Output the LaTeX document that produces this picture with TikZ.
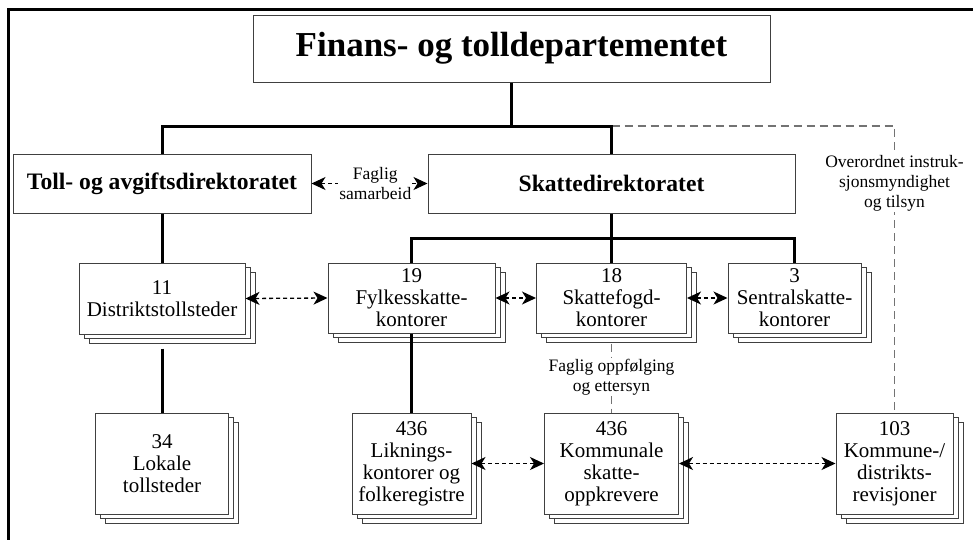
\documentclass[tikz,border=0pt]{standalone}
\usepackage{fontspec}
\setmainfont{Liberation Serif}
\usetikzlibrary{arrows.meta, shadows}

\tikzset{
  orgbox/.style={draw=black!75, line width=1pt, fill=white, align=center, inner sep=0pt},
  topbox/.style={orgbox, font=\fontsize{35}{40}\selectfont\bfseries},
  dirbox/.style={orgbox, font=\fontsize{23.6}{26}\selectfont\bfseries, minimum height=59pt},
  unitbox/.style={orgbox, font=\fontsize{21}{22}\selectfont,
    copy shadow={shadow xshift=10pt, shadow yshift=-9pt, draw=black!75, fill=white},
    copy shadow={shadow xshift=5pt, shadow yshift=-4.5pt, draw=black!75, fill=white}},
  orgline/.style={line width=3pt},
  linkarrow/.style={{Stealth[length=14pt,width=13pt,inset=4pt]}-{Stealth[length=14pt,width=13pt,inset=4pt]},
    dash pattern=on 4pt off 3pt, line width=1.3pt},
  graylink/.style={draw=black!55, line width=1.5pt, dash pattern=on 8pt off 5pt},
  linklabel/.style={fill=white, align=center, inner sep=1pt, font=\fontsize{17.5}{20}\selectfont},
}

\begin{document}
\begin{tikzpicture}[x=1pt, y=-1pt]
  \useasboundingbox (0,0) rectangle (973,539);
  \draw[line width=3pt] (8,545) -- (8,9) -- (980,9);

  % ministry and directorates
  \node[topbox, minimum width=517pt, minimum height=67pt] (fin) at (511.5,48.5) {Finans- og tolldepartementet};
  \node[dirbox, minimum width=298pt] (toll) at (162,183.5) {Toll- og avgiftsdirektoratet};
  \node[dirbox, minimum width=367pt] (skd) at (611.5,183.5) {Skattedirektoratet};
  \coordinate (bus) at (511.5,126);
  \coordinate (bus2) at (611.5,238);

  % regional level
  \node[unitbox, minimum width=166pt, minimum height=71pt] (dist) at (162,298.5) {11\\Distriktstollsteder};
  \node[unitbox, minimum width=167pt, minimum height=70pt] (fylke) at (411.5,298) {19\\Fylkesskatte-\\kontorer};
  \node[unitbox, minimum width=150pt, minimum height=70pt] (fogd) at (611.5,298) {18\\Skattefogd-\\kontorer};
  \node[unitbox, minimum width=133pt, minimum height=70pt] (sentral) at (794.5,298) {3\\Sentralskatte-\\kontorer};

  % local level
  \node[unitbox, minimum width=133pt, minimum height=101pt] (lokale) at (162,463.5) {34\\Lokale\\tollsteder};
  \node[unitbox, minimum width=119pt, minimum height=101pt] (likning) at (411.5,463.5) {436\\Liknings-\\kontorer og\\folkeregistre};
  \node[unitbox, minimum width=134pt, minimum height=101pt] (komm) at (611.5,463.5) {436\\Kommunale\\skatte-\\oppkrevere};
  \node[unitbox, minimum width=117pt, minimum height=101pt] (rev) at (894.5,463.5) {103\\Kommune-/\\distrikts-\\revisjoner};

  % supervision lines
  \draw[graylink] (bus -| skd.north) -| node[linklabel, pos=0.6] {Overordnet instruk-\\sjonsmyndighet\\og tilsyn} (rev.north);
  \draw[graylink, shorten <=10pt] (fogd.south) -- node[linklabel, pos=0.55] {Faglig oppfølging\\og ettersyn} (komm.north);

  % hierarchy
  \draw[orgline] (fin.south) -- (bus);
  \draw[orgline] (toll.north) |- (bus) -| (skd.north);
  \draw[orgline] (skd.south) -- (bus2);
  \draw[orgline] (fylke.north) |- (bus2) -| (sentral.north);
  \draw[orgline] (fogd.north) -- (bus2);
  \draw[orgline] (toll.south) -- (dist.north);
  \draw[orgline, shorten <=14pt] (dist.south) -- (lokale.north);
  \draw[orgline] (fylke.south) -- (likning.north);

  % cooperation
  \draw[linkarrow] (toll.east) -- node[linklabel, pos=0.55] {Faglig\\samarbeid} (skd.west);
  \draw[linkarrow] (dist.east) -- (fylke.west);
  \draw[linkarrow] (fylke.east) -- (fogd.west);
  \draw[linkarrow] (fogd.east) -- (sentral.west);
  \draw[linkarrow] (likning.east) -- (komm.west);
  \draw[linkarrow] (komm.east) -- (rev.west);
\end{tikzpicture}
\end{document}
